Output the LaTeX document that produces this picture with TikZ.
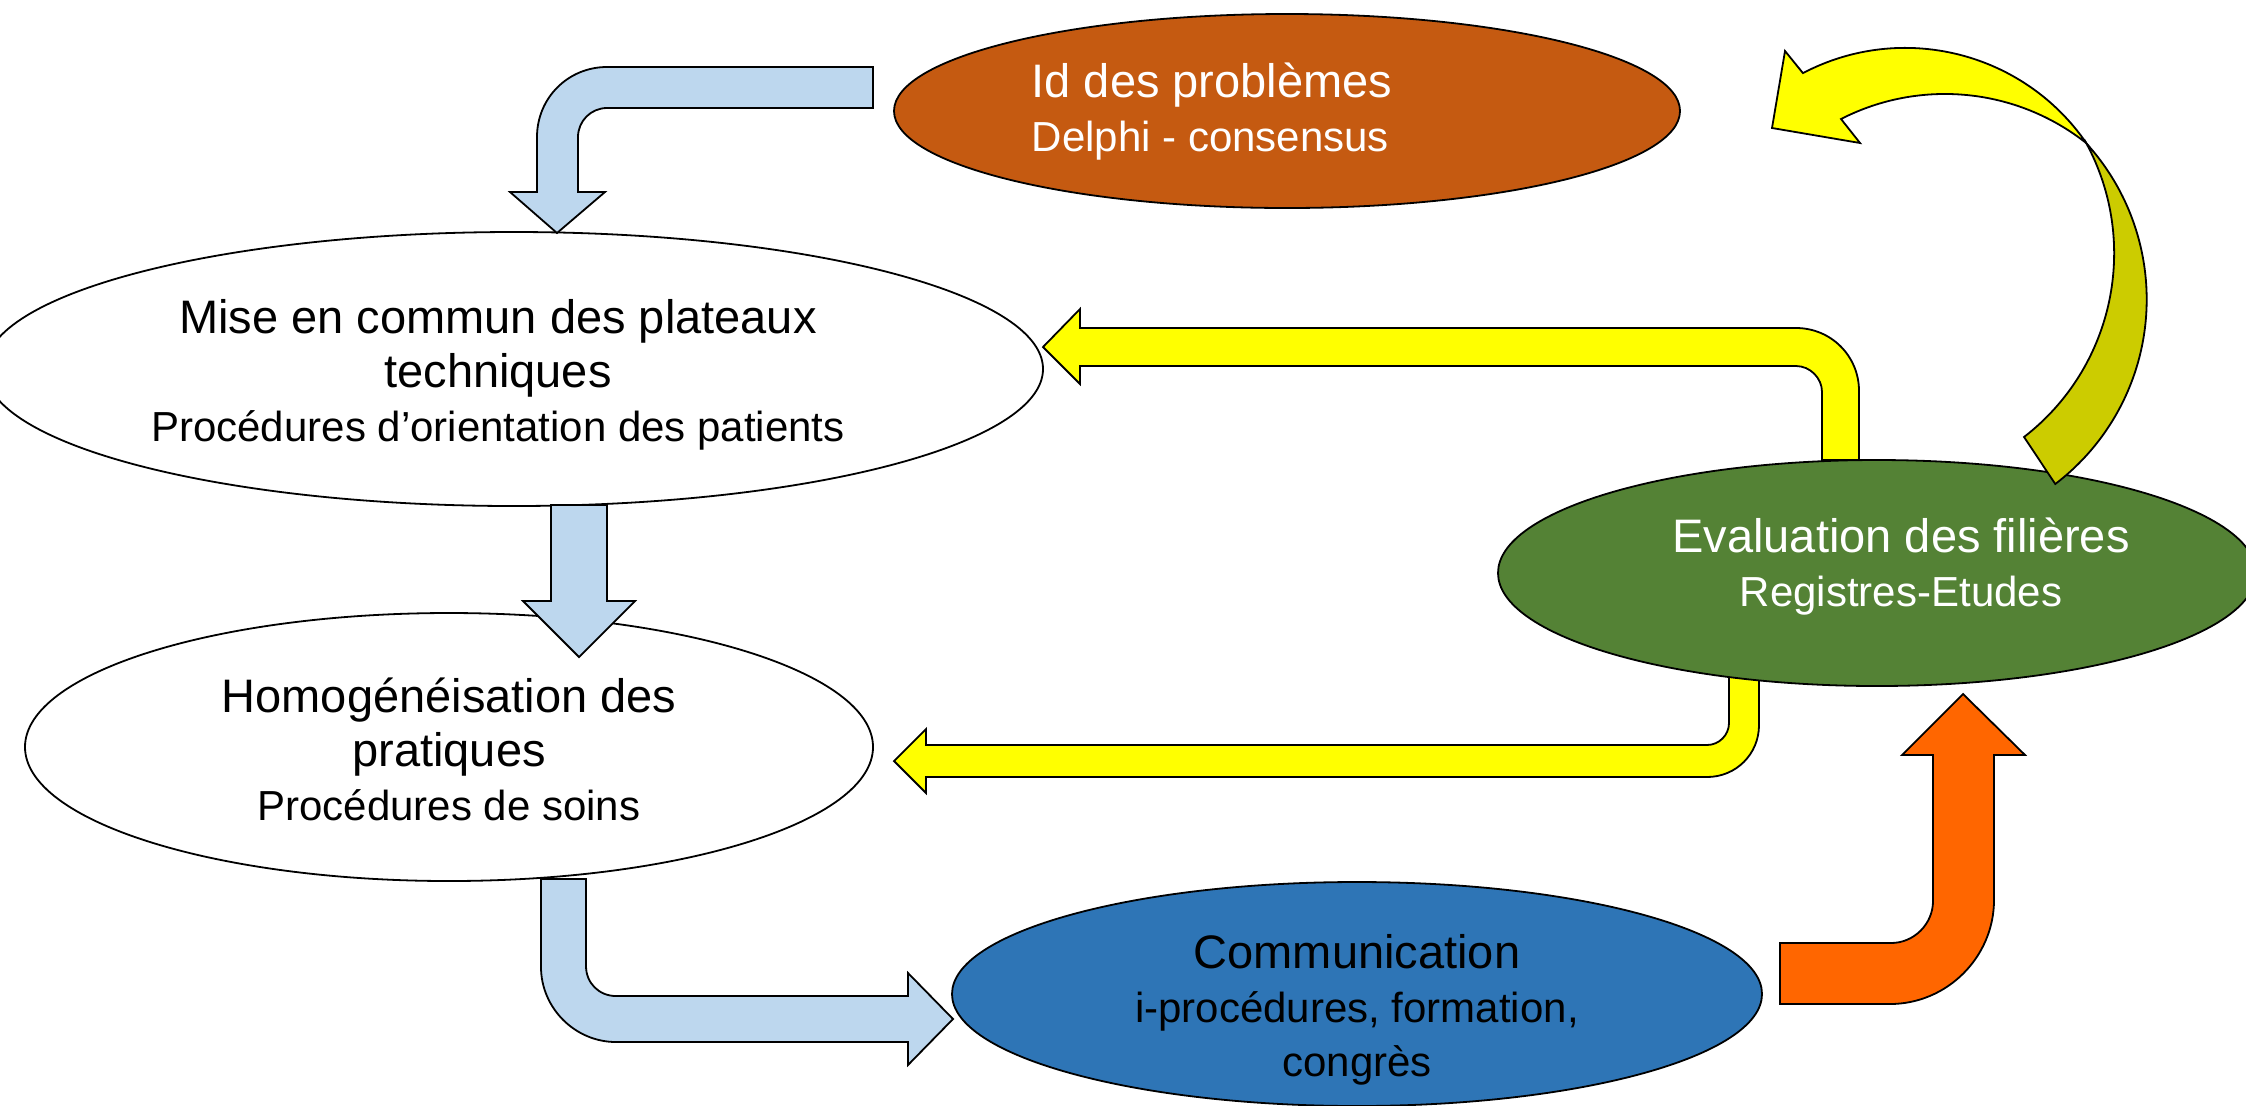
\documentclass[tikz,border=0pt]{standalone}
\usepackage{fontspec}
\setmainfont{Liberation Sans}
\usetikzlibrary{shapes.geometric}

\definecolor{idbrown}{HTML}{C55A11}
\definecolor{evalgreen}{HTML}{548235}
\definecolor{commblue}{HTML}{2E75B6}
\definecolor{paleblue}{HTML}{BDD7EE}
\definecolor{arrowyellow}{HTML}{FFFF00}
\definecolor{arrowolive}{HTML}{CCCC00}
\definecolor{arroworange}{HTML}{FF6600}

\newcommand{\titlefnt}{\fontsize{23.5}{27}\selectfont}
\newcommand{\subfnt}{\fontsize{21}{27}\selectfont}

\begin{document}
\begin{tikzpicture}[x=0.5pt, y=-0.5pt,
        bubble/.style={ellipse, draw=black, line width=0.9pt, inner sep=0pt, outer sep=0pt},
        bubbletext/.style={align=center, font=\titlefnt, inner sep=0pt},
        blockarrow/.style={draw=black, line width=0.9pt, line join=miter}]
            \useasboundingbox (0,0) rectangle (2246,1105);
            \clip (0,0) rectangle (2246,1105);

            \filldraw[blockarrow, fill=arrowyellow] (1729,677) -- (1729,723) .. controls (1729,735) and (1719,745) .. (1707,745) -- (926,745) -- (926,729) -- (894,761) -- (926,793) -- (926,777) -- (1707,777) .. controls (1736,777) and (1759,754) .. (1759,725) -- (1759,677) -- cycle;

            \node[bubble, fill=idbrown, minimum width=393pt, minimum height=97pt] (idp) at (1287,111) {};
            \node[bubble, fill=white, minimum width=529pt, minimum height=137pt] (mise) at (514,369) {};
            \node[bubble, fill=white, minimum width=424pt, minimum height=134pt] (homog) at (449,747) {};
            \node[bubble, fill=commblue, minimum width=405pt, minimum height=112pt] (comm) at (1357,994) {};
            \node[bubble, fill=evalgreen, minimum width=379pt, minimum height=113pt] (eval) at (1877,573) {};

            \node[bubbletext, text=white, align=left] (idtxt) at (1212,112) {Id des problèmes\\\subfnt Delphi - consensus};
            \node[bubbletext] (misetxt) at (498,375) {Mise en commun des plateaux\\techniques\\\subfnt Procédures d’orientation des patients};
            \node[bubbletext] (homogtxt) at (449,749) {Homogénéisation des\\pratiques\\\subfnt Procédures de soins};
            \node[bubbletext] (commtxt) at (1357,1010) {Communication\\\subfnt i-procédures, formation,\\\subfnt congrès};
            \node[bubbletext, text=white] (evaltxt) at (1901,567) {Evaluation des filières\\\subfnt Registres-Etudes};

            \filldraw[blockarrow, fill=paleblue] (873,67) -- (607,67) .. controls (568,67) and (537,98) .. (537,137) -- (537,192) -- (510,192) -- (557,233) -- (605,192) -- (578,192) -- (578,137) .. controls (578,121) and (591,108) .. (607,108) -- (873,108) -- cycle;
            \filldraw[blockarrow, fill=paleblue] (551,505) -- (551,601) -- (523,601) -- (579,657) -- (635,601) -- (607,601) -- (607,505) -- cycle;
            \filldraw[blockarrow, fill=paleblue] (541,879) -- (541,967) .. controls (541,1008) and (575,1042) .. (616,1042) -- (908,1042) -- (908,1065) -- (953,1019) -- (908,973) -- (908,996) -- (616,996) .. controls (599,996) and (586,983) .. (586,966) -- (586,879) -- cycle;

            \filldraw[blockarrow, fill=arrowyellow] (1822,460) -- (1822,392) .. controls (1822,378) and (1810,366) .. (1796,366) -- (1080,366) -- (1080,384) -- (1043,347) -- (1080,309) -- (1080,328) -- (1796,328) .. controls (1831,328) and (1859,356) .. (1859,391) -- (1859,460) -- cycle;

            \filldraw[blockarrow, fill=arroworange] (1780,943) -- (1891,943) .. controls (1914,943) and (1933,924) .. (1933,901) -- (1933,755) -- (1902,755) -- (1963,694) -- (2025,755) -- (1994,755) -- (1994,900) .. controls (1994,957) and (1947,1004) .. (1890,1004) -- (1780,1004) -- cycle;

            \filldraw[blockarrow, fill=arrowyellow] (1841,119) arc[start angle=-117.1, end angle=-51.6, radius=228] arc[start angle=-34.5, end angle=-117.7, radius=220] -- (1785,51) -- (1772,128) -- (1860,143) -- cycle;
            \filldraw[blockarrow, fill=arrowolive] (2086,143) arc[start angle=-42.4, end angle=52.7, radius=232] -- (2024,437) arc[start angle=52.3, end angle=-28.5, radius=232] -- cycle;
        \end{tikzpicture}
\end{document}
